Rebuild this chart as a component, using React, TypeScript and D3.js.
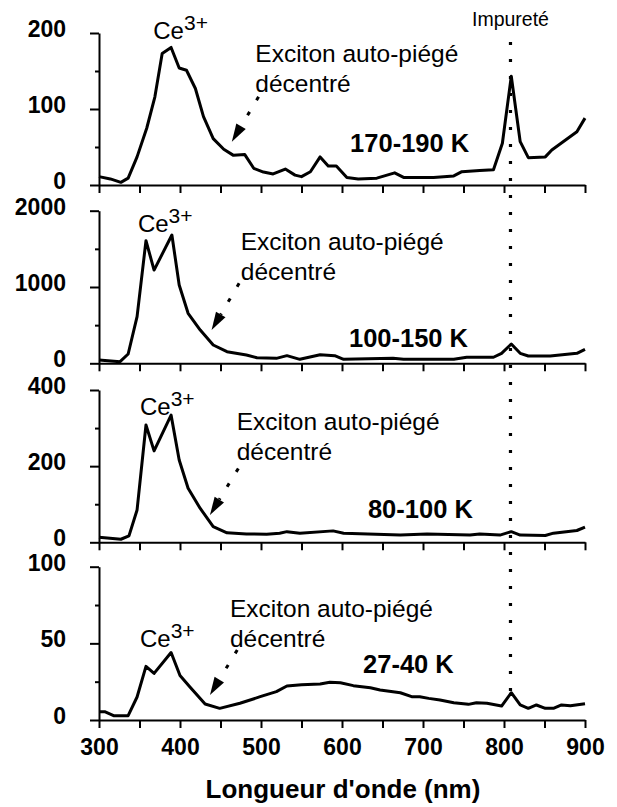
import { useEffect, useRef } from 'react';
import * as d3 from 'd3';

// Spectra: wavelength (nm) and intensity per temperature range
const WL_170 = [300, 314, 327, 336, 347, 359, 369, 378, 389, 399, 408, 419, 429, 441, 454, 466, 480, 491, 503, 515, 530, 542, 550, 561, 573, 583, 593, 606, 620, 643, 665, 676, 713, 738, 748, 770, 787, 798, 809, 820, 830, 851, 859, 890, 900];
const I_170 = [11, 8, 3.5, 9, 37, 75, 116, 173, 181, 154, 151, 127, 90, 61, 47, 39, 40, 22, 17, 14.5, 21, 13, 11, 17.5, 37, 25, 25, 10, 8, 9, 16, 10, 10, 12, 17.5, 19, 20, 55, 143, 57, 36, 37, 46, 70, 88];

const WL_100 = [300, 326, 336, 347, 358, 368, 390, 399, 410, 425, 441, 458, 482, 495, 519, 532, 548, 573, 591, 602, 663, 676, 738, 754, 787, 797, 809, 820, 830, 857, 890, 900];
const I_100 = [43, 21, 122, 611, 1607, 1222, 1681, 1026, 655, 436, 240, 152, 109, 73, 65, 100, 52, 113, 100, 52, 65, 52, 52, 79, 79, 131, 253, 131, 96, 96, 131, 183];

const WL_80 = [300, 327, 337, 347, 358, 368, 389, 399, 410, 425, 441, 458, 482, 507, 523, 532, 548, 589, 602, 672, 705, 758, 770, 795, 809, 820, 851, 861, 890, 900];
const I_80 = [13, 8, 17, 85, 308, 240, 334, 216, 142, 89, 41, 25, 22, 21, 24, 28, 24, 30, 24, 19, 22, 19, 22, 19, 28, 19, 18, 24, 31, 40];

const WL_27 = [300, 307, 318, 336, 347, 358, 368, 389, 400, 412, 431, 449, 474, 499, 519, 532, 550, 573, 585, 598, 614, 635, 647, 672, 686, 696, 707, 721, 738, 756, 766, 779, 797, 809, 820, 830, 840, 851, 861, 871, 882, 900];
const I_27 = [5.4, 5.4, 2.8, 2.8, 15, 35, 30.4, 44, 29, 21.7, 10.4, 7.6, 10.9, 15.2, 18.5, 22.2, 23, 23.5, 24.6, 24.3, 22.4, 21, 19.6, 17.8, 15.2, 15.2, 14.1, 13, 11.3, 10.2, 11.3, 10.9, 9.1, 17.8, 9.8, 7.6, 9.8, 7.6, 7.6, 9.8, 9.3, 10.6];

const WAVELENGTHS = [WL_170, WL_100, WL_80, WL_27];
const INTENSITIES = [I_170, I_100, I_80, I_27];
const TEMPS = ['170-190 K', '100-150 K', '80-100 K', '27-40 K'];
const Y_MAX = [200, 2000, 400, 100];

// Annotation anchors in data units [nm, intensity]
const CE_AT = [[367, 192], [348, 1725], [350.6, 334], [350.6, 47.8]];
const EXCITON_AT = [[493, 162], [475, 1485], [470, 295], [461.7, 67.4]];
const ARROW_FROM = [[497, 116], [473, 1048], [472, 194], [470.7, 45.7]];
const ARROW_TO = [[464, 57], [439, 436], [437, 72], [437, 16.3]];
const TEMP_AT = [[610, 43], [608.6, 218], [632, 64], [626, 30.7]];
const IMPURITY_NM = 808;

const X_TICKS = d3.range(300, 901, 50);

export default function App() {
  const svgRef = useRef<SVGSVGElement>(null);

  useEffect(() => {
    if (!svgRef.current) return;
    const svg = d3.select(svgRef.current);
    svg.selectAll('*').remove();

    const FONT = '"Liberation Sans", Arial, Helvetica, sans-serif';
    const TOPS = [33, 210.7, 390, 566.7];
    const BOTTOMS = [185, 363.3, 542.3, 720];

    const x = d3.scaleLinear().domain([300, 900]).range([99, 585]);

    // Impurity dotted marker
    svg.append('line')
      .attr('x1', x(IMPURITY_NM)).attr('x2', x(IMPURITY_NM))
      .attr('y1', 42).attr('y2', 692)
      .style('stroke', '#000').style('stroke-width', 3.2)
      .style('stroke-dasharray', '3 14');
    svg.append('text').attr('x', x(IMPURITY_NM)).attr('y', 26)
      .attr('text-anchor', 'middle')
      .style('font-family', FONT).style('font-size', '19.5px').text('Impureté');

    WAVELENGTHS.forEach((wl, i) => {
      const vals = INTENSITIES[i];
      const max = Y_MAX[i];
      const y = d3.scaleLinear().domain([0, max]).range([BOTTOMS[i], TOPS[i]]);
      const last = i === WAVELENGTHS.length - 1;

      // Axes
      const yAxis = svg.append('g').attr('transform', `translate(${x(300)},0)`)
        .call(d3.axisLeft(y).tickValues([0, max / 2, max]).tickFormat(d3.format('d'))
          .tickSize(9).tickPadding(24).tickSizeOuter(0));
      yAxis.selectAll('text').attr('dy', '0.15em');
      svg.append('g').attr('transform', `translate(${x(300)},0)`)
        .call(d3.axisLeft(y).tickValues([max / 4, (3 * max) / 4]).tickSize(4).tickFormat(() => ''))
        .select('.domain').remove();

      const xAxis = svg.append('g').attr('transform', `translate(0,${BOTTOMS[i]})`)
        .call(d3.axisBottom(x).tickValues(X_TICKS).tickSize(8).tickPadding(10.5).tickSizeOuter(0)
          .tickFormat(d => (last && +d % 100 === 0 ? String(d) : '')));

      [yAxis, xAxis].forEach(g => {
        g.selectAll('text').style('font-family', FONT).style('font-size', '23px')
          .style('font-weight', 'bold').style('fill', '#000');
      });
      svg.selectAll('.domain, .tick line').style('stroke', '#000').style('stroke-width', 2);

      // Spectrum
      const pts = wl.map((w, k) => [w, vals[k]] as [number, number]);
      const line = d3.line<[number, number]>().x(d => x(d[0])).y(d => y(d[1]));
      svg.append('path').datum(pts).attr('d', line)
        .style('fill', 'none').style('stroke', '#000').style('stroke-width', 3)
        .style('stroke-linejoin', 'round');

      // Ce3+ label
      const ce = svg.append('text').attr('x', x(CE_AT[i][0])).attr('y', y(CE_AT[i][1]))
        .style('font-family', FONT).style('font-size', '24px');
      ce.append('tspan').text('Ce');
      ce.append('tspan').attr('dy', -9).style('font-size', '21px').text('3+');

      // Exciton label
      const ex = svg.append('text').attr('x', x(EXCITON_AT[i][0])).attr('y', y(EXCITON_AT[i][1]))
        .style('font-family', FONT).style('font-size', '24.5px');
      ex.append('tspan').text('Exciton auto-piégé');
      ex.append('tspan').attr('x', x(EXCITON_AT[i][0])).attr('dy', 30.5).text('décentré');

      // Dashed arrow
      const [tx, ty] = [x(ARROW_FROM[i][0]), y(ARROW_FROM[i][1])];
      const [hx, hy] = [x(ARROW_TO[i][0]), y(ARROW_TO[i][1])];
      const len = Math.hypot(hx - tx, hy - ty);
      const ux = (hx - tx) / len, uy = (hy - ty) / len;
      const headL = 18, headW = 5.5;
      const bx = hx - ux * headL, by = hy - uy * headL;
      svg.append('line').attr('x1', tx).attr('y1', ty).attr('x2', bx).attr('y2', by)
        .style('stroke', '#000').style('stroke-width', 3).style('stroke-dasharray', '4 13.5');
      svg.append('polygon')
        .attr('points', [[hx, hy], [bx - uy * headW, by + ux * headW], [bx + uy * headW, by - ux * headW]]
          .map(p => p.join(',')).join(' '))
        .style('fill', '#000');

      // Temperature label
      svg.append('text').attr('x', x(TEMP_AT[i][0])).attr('y', y(TEMP_AT[i][1]))
        .style('font-family', FONT).style('font-size', '25.5px').style('font-weight', 'bold')
        .text(TEMPS[i]);
    });

    svg.append('text').attr('x', 343).attr('y', 798).attr('text-anchor', 'middle')
      .style('font-family', FONT).style('font-size', '26px').style('font-weight', 'bold')
      .text("Longueur d'onde (nm)");
  }, []);

  return (
    <svg ref={svgRef} width={617} height={807}
      style={{ position: 'absolute', left: 0, top: 0, background: '#fff' }} />
  );
}
